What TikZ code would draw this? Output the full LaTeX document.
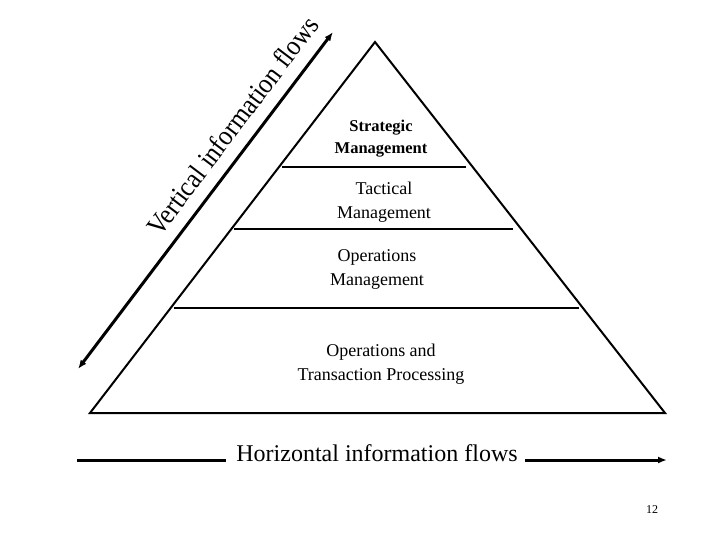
\documentclass[tikz,border=0pt]{standalone}
\usepackage{fontspec}
\setmainfont{Liberation Serif}
\usetikzlibrary{arrows.meta}
\begin{document}
\begin{tikzpicture}[x=1pt,y=-1pt,
  layer/.style={draw=black,line width=2pt},
  flow/.style={line width=3pt},
  lbl/.style={align=center,inner sep=0pt,font=\fontsize{18}{24}\selectfont},
  tip/.style={-{Latex[length=9pt,width=7pt]}}]
\useasboundingbox (0,0) rectangle (720,540);
% pyramid
\coordinate (apex) at (375,42);
\coordinate (bl) at (90,413);
\coordinate (br) at (665,413);
\draw[layer,line join=miter] (apex) -- (bl) -- (br) -- cycle;
\coordinate (d1l) at (282,167); \coordinate (d1r) at (466,167);
\coordinate (d2l) at (234,229); \coordinate (d2r) at (513,229);
\coordinate (d3l) at (174,308); \coordinate (d3r) at (579,308);
\draw[layer] (d1l) -- (d1r);
\draw[layer] (d2l) -- (d2r);
\draw[layer] (d3l) -- (d3r);
% labels
\node[lbl,font=\bfseries\fontsize{16.5}{22}\selectfont] (s) at (381,139) {Strategic\\Management};
\node[lbl] (t) at (384,202) {Tactical\\Management};
\node[lbl] (o) at (377,269) {Operations\\Management};
\node[lbl] (p) at (381,364) {Operations and\\Transaction Processing};
% vertical arrow
\coordinate (va) at (78,369);
\coordinate (vb) at (333,32);
\draw[flow,{Latex[length=9pt,width=7pt]}-{Latex[length=9pt,width=7pt]}] (va) -- node[pos=0.68,sloped,above=14pt,anchor=base,inner sep=0pt,xscale=0.9,font=\fontsize{28}{30}\selectfont] (vt) {Vertical information flows} (vb);
% horizontal arrow
\node[inner sep=0pt,anchor=base,font=\fontsize{24}{28}\selectfont] (h) at (377,461) {Horizontal information flows};
\coordinate (hl) at (77,460);
\coordinate (hl2) at (226,460);
\coordinate (hr1) at (525,460);
\coordinate (hr) at (667,460);
\draw[flow] (hl) -- (hl2);
\draw[flow,tip] (hr1) -- (hr);
% page number
\node[inner sep=0pt,font=\fontsize{12}{14}\selectfont] (n) at (652,510) {12};
\end{tikzpicture}
\end{document}
